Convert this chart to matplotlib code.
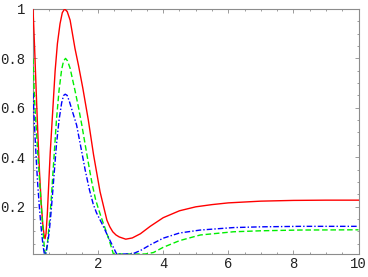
import matplotlib
matplotlib.use("Agg")
import matplotlib.pyplot as plt
from matplotlib.ticker import MultipleLocator, FixedLocator, FixedFormatter

# ---- data ----
x_red = [0, 0.05, 0.10, 0.15, 0.20, 0.25, 0.30, 0.34, 0.37, 0.40, 0.44, 0.49, 0.53,
         0.58, 0.63, 0.68, 0.75, 0.83, 0.90, 0.97, 1.05, 1.14, 1.29, 1.40, 1.53,
         1.70, 1.86, 2.06, 2.27, 2.36, 2.45, 2.55, 2.65, 2.85, 3.05, 3.3, 3.6, 4.0,
         4.5, 5.0, 5.5, 6.0, 7.0, 8.0, 9.0, 10.0]
y_red = [1.0, 0.84, 0.66, 0.49, 0.34, 0.22, 0.13, 0.085, 0.07, 0.09, 0.17, 0.31, 0.42,
         0.53, 0.64, 0.75, 0.86, 0.94, 0.985, 1.0, 0.99, 0.955, 0.84, 0.77, 0.68,
         0.55, 0.41, 0.26, 0.145, 0.118, 0.098, 0.085, 0.077, 0.068, 0.073, 0.09,
         0.12, 0.155, 0.183, 0.199, 0.208, 0.215, 0.222, 0.225, 0.226, 0.226]

x_green = [0, 0.03, 0.06, 0.10, 0.14, 0.20, 0.26, 0.31, 0.35, 0.38, 0.40, 0.45, 0.50,
           0.55, 0.60, 0.66, 0.72, 0.80, 0.88, 0.94, 1.0, 1.06, 1.14, 1.29, 1.40,
           1.50, 1.65, 1.75, 1.82, 1.92, 2.0, 2.1, 2.22, 2.35, 2.47, 2.6, 3.0, 3.45,
           3.7, 4.0, 4.5, 5.14, 6.16, 7.0, 8.2, 10.0]
y_green = [0.80, 0.69, 0.60, 0.52, 0.43, 0.31, 0.19, 0.10, 0.03, 0.008, 0.008, 0.06,
           0.13, 0.21, 0.31, 0.43, 0.55, 0.67, 0.755, 0.79, 0.80, 0.79, 0.76, 0.67,
           0.60, 0.53, 0.415, 0.34, 0.29, 0.23, 0.195, 0.155, 0.11, 0.06, 0.008,
           0.008, 0.008, 0.008, 0.014, 0.035, 0.062, 0.085, 0.098, 0.102, 0.105, 0.106]

x_blue = [0, 0.03, 0.06, 0.10, 0.14, 0.20, 0.26, 0.31, 0.35, 0.39, 0.45, 0.50, 0.55,
          0.60, 0.66, 0.72, 0.80, 0.88, 0.94, 0.99, 1.05, 1.12, 1.20, 1.34, 1.50,
          1.60, 1.73, 1.85, 1.95, 2.16, 2.30, 2.45, 2.57, 2.65, 3.05, 3.3, 3.6, 4.0,
          4.5, 5.14, 6.16, 7.0, 8.2, 10.0]
y_blue = [0.66, 0.57, 0.49, 0.39, 0.30, 0.19, 0.10, 0.04, 0.008, 0.008, 0.05, 0.10,
          0.17, 0.25, 0.35, 0.45, 0.55, 0.62, 0.65, 0.655, 0.65, 0.625, 0.59, 0.53,
          0.42, 0.35, 0.27, 0.21, 0.175, 0.12, 0.08, 0.04, 0.008, 0.008, 0.008,
          0.022, 0.045, 0.072, 0.093, 0.105, 0.115, 0.118, 0.12, 0.12]

x_major = [2, 4, 6, 8, 10]
x_labels = ["2", "4", "6", "8", "10"]
y_major = [0.2, 0.4, 0.6, 0.8, 1.0]
y_labels = ["0.2", "0.4", "0.6", "0.8", "1"]

# ---- figure ----
fig = plt.figure(figsize=(3.68, 2.77), dpi=100)
ax = fig.add_axes([33/368, 23/277, 325.5/368, 245/277])

ax.plot(x_red, y_red, color="#ff0000", lw=1.0, zorder=3)
ax.plot(x_green, y_green, color="#00ee00", lw=1.0, ls=(0, (4, 2)), zorder=3)
ax.plot(x_blue, y_blue, color="#0000ff", lw=1.0, ls=(0, (4, 1.5, 1, 1.5)), zorder=3)

ax.set_xlim(0, 10)
ax.set_ylim(0.008, 1.0)

ax.xaxis.set_major_locator(FixedLocator(x_major))
ax.xaxis.set_major_formatter(FixedFormatter(x_labels))
ax.xaxis.set_minor_locator(MultipleLocator(0.5))
ax.yaxis.set_major_locator(FixedLocator(y_major))
ax.yaxis.set_major_formatter(FixedFormatter(y_labels))
ax.yaxis.set_minor_locator(MultipleLocator(0.05))

frame_col = "#8c8c8c"
for s in ax.spines.values():
    s.set_color(frame_col)
    s.set_linewidth(0.8)

ax.tick_params(which="both", direction="in", top=True, right=True,
               color=frame_col, width=0.6)
ax.tick_params(which="major", length=3.2)
ax.tick_params(which="minor", length=1.6)
ax.tick_params(axis="y", which="major", pad=5.5)
ax.tick_params(axis="x", which="major", pad=2.5)
for lab in ax.get_xticklabels() + ax.get_yticklabels():
    lab.set_fontfamily("Liberation Mono")
    lab.set_fontsize(10)
    lab.set_color("#222222")

fig.savefig("out.png", dpi=100)
